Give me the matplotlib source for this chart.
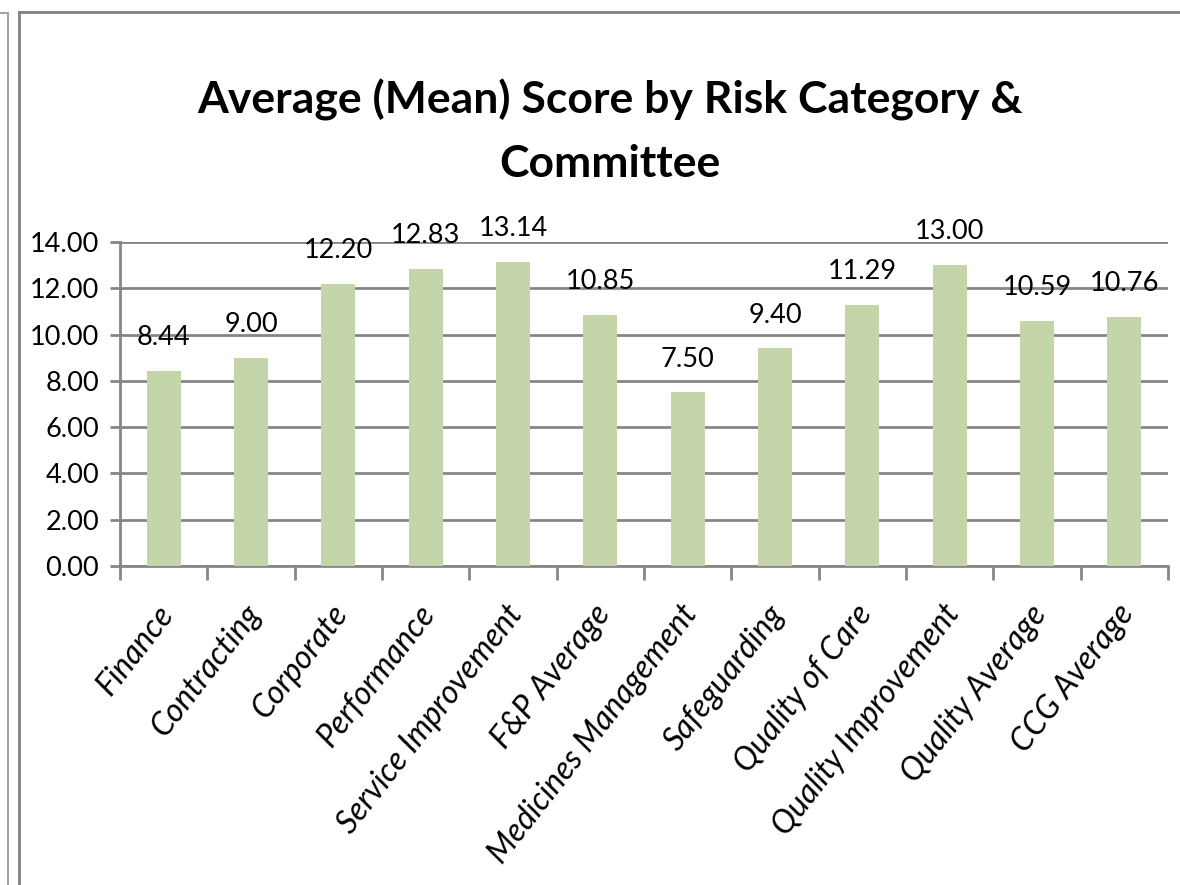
import matplotlib
matplotlib.use('Agg')
import matplotlib.pyplot as plt
import matplotlib.transforms as mtransforms
from matplotlib.lines import Line2D
import numpy as np

categories = ['Finance', 'Contracting', 'Corporate', 'Performance',
              'Service Improvement', 'F&P Average', 'Medicines Management',
              'Safeguarding', 'Quality of Care', 'Quality Improvement',
              'Quality Average', 'CCG Average']
scores = [8.44, 9.00, 12.20, 12.83, 13.14, 10.85, 7.50, 9.40, 11.29, 13.00,
          10.59, 10.76]
y_ticks = [0, 2, 4, 6, 8, 10, 12, 14]

plt.rcParams['font.family'] = ['Lato', 'DejaVu Sans']

fig = plt.figure(figsize=(11.8, 8.85), dpi=100)
ax = fig.add_axes([120/1180, 1 - 566/885, (1168 - 120)/1180, (566 - 242)/885])

grey = '#868686'
x = np.arange(len(categories))
ax.bar(x, scores, width=0.39, color='#C4D6A9', zorder=3)

for xi, v in zip(x, scores):
    ax.annotate('%.2f' % v, (xi, v), xytext=(0, 15), textcoords='offset points',
                ha='center', va='bottom', fontsize=19.5)

ax.set_xlim(-0.5, len(categories) - 0.5)
ax.set_ylim(0, 14)
ax.set_yticks(y_ticks)
ax.set_yticklabels(['%.2f' % t for t in y_ticks], fontsize=19.5)
ax.yaxis.grid(True, color=grey, linewidth=2, zorder=0)
ax.tick_params(axis='y', length=7, width=2, color=grey, pad=8)

ax.set_xticks(x)
ax.set_xticklabels(categories, rotation=52, ha='right', va='top',
                   rotation_mode='anchor', fontsize=23, style='italic')
ax.set_xticks(np.arange(-0.5, len(categories)), minor=True)
ax.tick_params(axis='x', which='major', length=0, pad=24)
ax.tick_params(axis='x', which='minor', length=10, width=2, color=grey)
shift = mtransforms.ScaledTranslation(-8/100, 0, fig.dpi_scale_trans)
for lbl in ax.get_xticklabels():
    lbl.set_transform(lbl.get_transform() + shift)

for s in ['top', 'right']:
    ax.spines[s].set_visible(False)
for s in ['left', 'bottom']:
    ax.spines[s].set_color(grey)
    ax.spines[s].set_linewidth(2)

fig.text(610/1180, 1 - 100/885, 'Average (Mean) Score by Risk Category &',
         ha='center', va='center', fontsize=32, fontweight='bold')
fig.text(610/1180, 1 - 164/885, 'Committee',
         ha='center', va='center', fontsize=32, fontweight='bold')

# chart frame lines
fig.add_artist(Line2D([8/1180, 8/1180], [0, 1 - 13/885], color='#a6a6a6', lw=1.5))
fig.add_artist(Line2D([0, 8/1180], [1 - 13/885, 1 - 13/885], color='#a6a6a6', lw=1.5))
fig.add_artist(Line2D([19/1180, 19/1180], [0, 1 - 12/885], color='#808080', lw=2))
fig.add_artist(Line2D([19/1180, 1], [1 - 12/885, 1 - 12/885], color='#808080', lw=2))

fig.savefig('out.png', dpi=100)
